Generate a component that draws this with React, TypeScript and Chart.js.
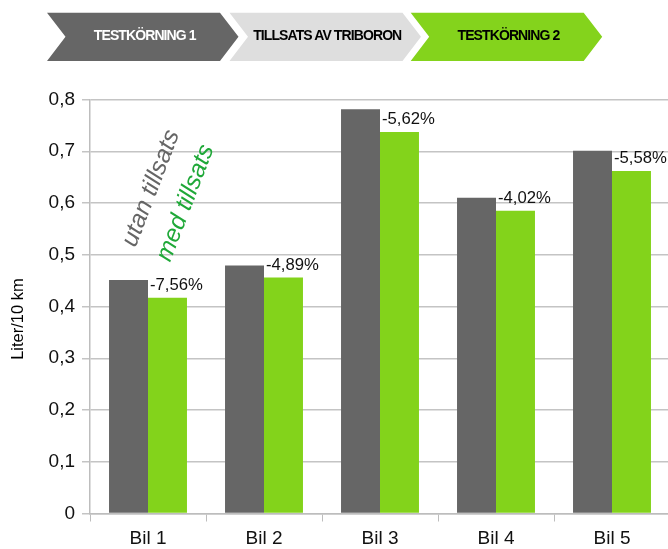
import React, { useEffect, useRef } from "react";
import { Chart, registerables } from "chart.js";

Chart.register(...registerables);

const categories = ["Bil 1", "Bil 2", "Bil 3", "Bil 4", "Bil 5"];
const utanValues = [0.451, 0.479, 0.781, 0.61, 0.701];
const medValues = [0.417, 0.456, 0.737, 0.585, 0.662];
const pctLabels = ["-7,56%", "-4,89%", "-5,62%", "-4,02%", "-5,58%"];
const yTickLabels = ["0", "0,1", "0,2", "0,3", "0,4", "0,5", "0,6", "0,7", "0,8"];
const stepLabels = ["TESTKÖRNING 1", "TILLSATS AV TRIBORON", "TESTKÖRNING 2"];

const FONT = "'Liberation Sans', Arial, sans-serif";
const GRAY = "#666666";
const GREEN = "#83d31b";
const TEXT_GREEN = "#1fa838";

const annotationPlugin = {
  id: "annotations",
  afterDatasetsDraw(chart: any) {
    const ctx = chart.ctx;
    const grayMeta = chart.getDatasetMeta(0);
    const greenMeta = chart.getDatasetMeta(1);
    ctx.save();
    // percentage labels
    ctx.font = `16.7px ${FONT}`;
    ctx.fillStyle = "#111";
    ctx.textAlign = "left";
    ctx.textBaseline = "alphabetic";
    greenMeta.data.forEach((bar: any, i: number) => {
      const left = bar.x - bar.width / 2;
      ctx.fillText(pctLabels[i], left + 2, bar.y - 8);
    });
    // rotated series labels
    const g0 = grayMeta.data[0];
    const m0 = greenMeta.data[0];
    const ang = (-69 * Math.PI) / 180;
    ctx.font = `italic 24.5px ${FONT}`;
    ctx.save();
    ctx.translate(g0.x + 7, g0.y - 32);
    ctx.rotate(ang);
    ctx.fillStyle = GRAY;
    ctx.fillText("utan tillsats", 0, 0);
    ctx.restore();
    ctx.save();
    ctx.translate(m0.x + 2.5, m0.y - 35);
    ctx.rotate(ang);
    ctx.fillStyle = TEXT_GREEN;
    ctx.fillText("med tillsats", 0, 0);
    ctx.restore();
    // y axis title
    ctx.save();
    ctx.translate(23.3, 319);
    ctx.rotate(-Math.PI / 2);
    ctx.font = `16.5px ${FONT}`;
    ctx.fillStyle = "#000";
    ctx.textAlign = "center";
    ctx.fillText("Liter/10 km", 0, 0);
    ctx.restore();
    ctx.restore();
  },
};

function Header() {
  const shapes = [
    { x: 47, fill: "#666666", text: "#ffffff" },
    { x: 229.5, fill: "#dedede", text: "#000000" },
    { x: 410.7, fill: "#84d31c", text: "#000000" },
  ];
  const top = 12.7;
  const bottom = 61;
  const mid = 36.8;
  const w = 173;
  const d = 18.5;
  return (
    <svg
      width={668}
      height={80}
      style={{ position: "absolute", left: 0, top: 0 }}
    >
      {shapes.map((s, i) => {
        const pts = [
          [s.x, top],
          [s.x + w, top],
          [s.x + w + d, mid],
          [s.x + w, bottom],
          [s.x, bottom],
          [s.x + d, mid],
        ]
          .map((p) => p.join(","))
          .join(" ");
        return (
          <g key={i}>
            <polygon points={pts} fill={s.fill} />
            <text
              x={s.x + d / 2 + w / 2 + 2}
              y={40}
              textAnchor="middle"
              fill={s.text}
              style={{
                fontFamily: FONT,
                fontWeight: "bold",
                fontSize: "14px",
                letterSpacing: "-0.9px",
              }}
            >
              {stepLabels[i]}
            </text>
          </g>
        );
      })}
    </svg>
  );
}

export default function App() {
  const ref = useRef<HTMLCanvasElement>(null);
  useEffect(() => {
    if (!ref.current) return;
    const chart = new Chart(ref.current, {
      type: "bar",
      data: {
        labels: categories,
        datasets: [
          {
            label: "utan tillsats",
            data: utanValues,
            backgroundColor: GRAY,
            borderWidth: 0,
            barPercentage: 1,
            categoryPercentage: 0.672,
          },
          {
            label: "med tillsats",
            data: medValues,
            backgroundColor: GREEN,
            borderWidth: 0,
            barPercentage: 1,
            categoryPercentage: 0.672,
          },
        ],
      },
      options: {
        animation: false,
        responsive: false,
        maintainAspectRatio: false,
        layout: { padding: { left: 0, right: 0, top: 99.5, bottom: 0 } },
        plugins: {
          legend: { display: false },
          tooltip: { enabled: false },
          title: { display: false },
        },
        scales: {
          x: {
            grid: {
              drawOnChartArea: false,
              drawTicks: true,
              tickLength: 8,
              color: "#bdbdbd",
              offset: true,
            },
            border: { display: true, color: "#bdbdbd", width: 1.5 },
            ticks: {
              font: { family: FONT, size: 19 },
              color: "#111",
              padding: 6,
            },
            afterFit: (scale: any) => {
              scale.height = 35.5;
            },
          },
          y: {
            min: 0,
            max: 0.8,
            grid: {
              color: "#c4c4c4",
              lineWidth: 1.5,
              tickLength: 8,
            },
            border: { display: true, color: "#bdbdbd", width: 1.5 },
            ticks: {
              stepSize: 0.1,
              font: { family: FONT, size: 19 },
              color: "#111",
              padding: 7,
              callback: (_v: any, i: number) => yTickLabels[i],
            },
            afterFit: (scale: any) => {
              scale.width = 90;
            },
          },
        },
      },
      plugins: [annotationPlugin],
    });
    return () => chart.destroy();
  }, []);
  return (
    <div
      style={{
        position: "fixed",
        left: 0,
        top: 0,
        width: 668,
        height: 549,
        overflow: "hidden",
        background: "#fff",
      }}
    >
      <canvas
        ref={ref}
        width={670}
        height={549}
        style={{ position: "absolute", left: 0, top: 0, width: 670, height: 549 }}
      />
      <Header />
    </div>
  );
}
